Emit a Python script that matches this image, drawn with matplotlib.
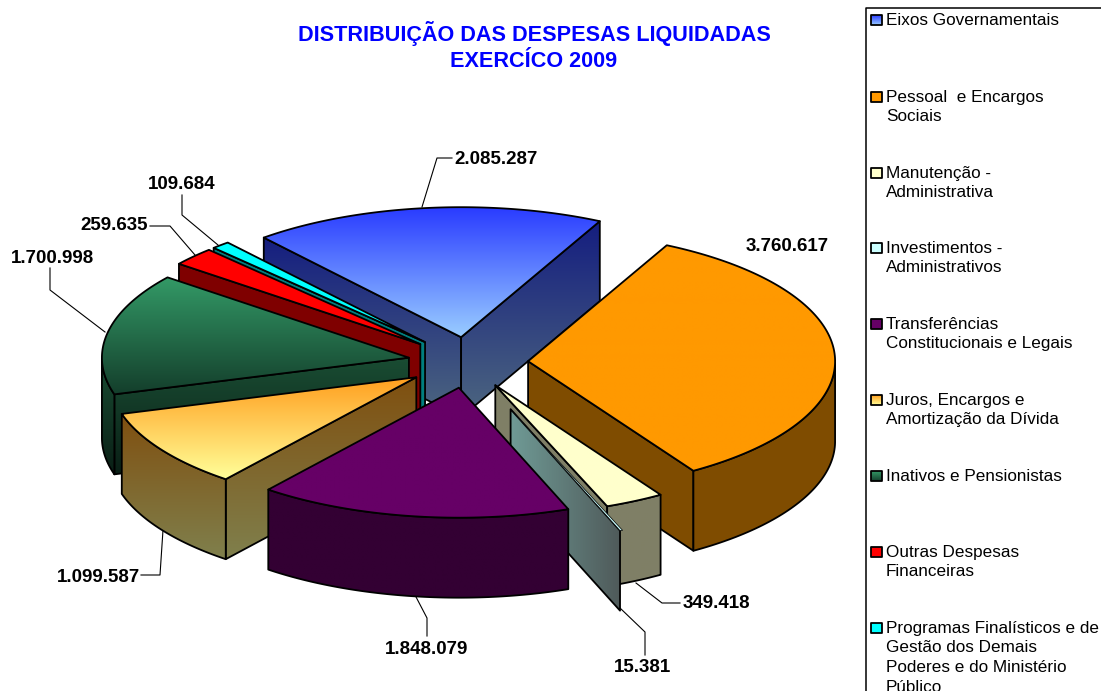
import numpy as np
import matplotlib
matplotlib.use("Agg")
from matplotlib import pyplot as plt
from matplotlib.colors import to_rgb
from matplotlib.patches import Polygon

plt.rcParams['font.family'] = ['Liberation Sans', 'DejaVu Sans']

categories = ["Eixos Governamentais", "Pessoal  e Encargos\nSociais", "Manutenção -\nAdministrativa",
              "Investimentos -\nAdministrativos", "Transferências\nConstitucionais e Legais",
              "Juros, Encargos e\nAmortização da Dívida", "Inativos e Pensionistas",
              "Outras Despesas\nFinanceiras",
              "Programas Finalísticos e de\nGestão dos Demais\nPoderes e do Ministério\nPúblico"]
values = [2085287, 3760617, 349418, 15381, 1848079, 1099587, 1700998, 259635, 109684]
value_labels = ["2.085.287", "3.760.617", "349.418", "15.381", "1.848.079",
                "1.099.587", "1.700.998", "259.635", "109.684"]

# estilo de cada fatia
top_colors = [("#2a3cff", "#99ccff"), ("#ff9900", "#ff9900"), ("#ffffcc", "#ffffcc"),
              ("#ccffff", "#ccffff"), ("#660066", "#660066"), ("#ff9f1f", "#ffff99"),
              ("#339966", "#143f2c"), ("#ff0000", "#ff0000"), ("#00ffff", "#00ffff")]
explode = [0.196, 0.196, 0.196, 0.385, 0.196, 0.203, 0.196, 0.21, 0.21]
draw_order = [0, 1, 8, 7, 6, 5, 2, 3, 4]

cx, cy = 468, 362.5
rx, ry = 307, 130
depth = 80
start_angle = 130

fig = plt.figure(figsize=(11.01, 6.91), dpi=100)
ax = fig.add_axes([0, 0, 1, 1])
ax.axis("off")


def shade(c, k=0.5):
    return tuple(v * k for v in to_rgb(c))


def fill(points, c0, c1, z, horizontal=False, lw=1.3):
    points = np.array(points)
    x0, y0 = points.min(axis=0)
    x1, y1 = points.max(axis=0)
    t = np.linspace(0, 1, 64)[:, None]
    grad = (1 - t) * np.array(to_rgb(c0)) + t * np.array(to_rgb(c1))
    grad = grad[None, :, :] if horizontal else grad[:, None, :]
    im = ax.imshow(grad, extent=(x0, x1, y1, y0), aspect="auto", zorder=z, interpolation="bilinear")
    poly = Polygon(points, closed=True, facecolor="none", edgecolor="black", lw=lw, joinstyle="round", zorder=z)
    ax.add_patch(poly)
    im.set_clip_path(poly)


def draw_slice(i, a, b, z):
    mid = np.radians((a + b) / 2)
    tx = cx + explode[i] * rx * np.cos(mid)
    ty = cy - explode[i] * ry * np.sin(mid)
    th = np.radians(np.linspace(a, b, 120))
    ax_x = tx + rx * np.cos(th)
    ax_y = ty - ry * np.sin(th)
    c0, c1 = top_colors[i]
    s0, s1 = shade(c0), shade(c1)
    hz = i == 3
    if hz:
        s0, s1 = "#6f9a95", "#4f5a5a"
    # paredes do corte, so as que ficam de frente
    for ang, visible in ((a, np.cos(np.radians(a)) < 0), (b, np.cos(np.radians(b)) > 0)):
        if visible:
            ex = tx + rx * np.cos(np.radians(ang))
            ey = ty - ry * np.sin(np.radians(ang))
            fill([(tx, ty), (ex, ey), (ex, ey + depth), (tx, ty + depth)], s0, s1, z, hz)
    # lateral externa (a fatia fina nao precisa, fica so a parede)
    front = np.sin(th) < 0
    if front.any() and not hz:
        fx, fy = ax_x[front], ax_y[front]
        pts = list(zip(fx, fy)) + list(zip(fx[::-1], fy[::-1] + depth))
        fill(pts, s0, s1, z + 0.1, hz)
    # topo
    fill([(tx, ty)] + list(zip(ax_x, ax_y)), c0, c1, z + 0.2, lw=0.5 if hz else 1.3)


angles = [start_angle]
for v in values:
    angles.append(angles[-1] - v / sum(values) * 360)
for n, i in enumerate(draw_order):
    draw_slice(i, angles[i], angles[i + 1], 2 + n)

# titulo
ax.text(534, 33, "DISTRIBUIÇÃO DAS DESPESAS LIQUIDADAS", color="#0000ff", fontsize=15.6, fontweight="bold",
        ha="center", va="center")
ax.text(534, 61, "EXERCÍCO 2009", color="#0000ff", fontsize=15.6, fontweight="bold", ha="center", va="center")

# rotulos e linhas de chamada
label_pos = [(454, 159, "left"), (746, 246, "left"), (683, 604, "left"), (614, 668, "left"), (427, 650, "center"),
             (140, 577, "right"), (52, 258, "center"), (148, 225, "right"), (182, 184, "center")]
leaders = [[(422, 207), (437, 158), (452, 158)], None, [(636, 583), (662, 603), (680, 603)],
           [(620, 608), (645, 632), (645, 655)], [(415, 595), (427, 618), (427, 636)],
           [(163, 530), (160, 575), (141, 575)], [(105, 332), (50, 290), (50, 268)],
           [(195, 255), (170, 226), (150, 226)], [(218, 245), (182, 215), (182, 195)]]
for txt, (x, y, ha), ld in zip(value_labels, label_pos, leaders):
    ax.text(x, y, txt, fontsize=13.5, fontweight="bold", ha=ha, va="center", zorder=20)
    if ld:
        ax.plot(*zip(*ld), color="black", lw=0.8, zorder=1)

# legenda
ax.plot([1101, 866, 866], [8, 8, 691], color="black", lw=1.1, zorder=1)
legend_y = [20, 97, 173, 248, 324, 400, 476, 552, 628]
for name, y, (c0, c1) in zip(categories, legend_y, top_colors):
    for k, line in enumerate(name.split("\n")):
        ax.text(886, y + k * 19.7, line, fontsize=12.3, ha="left", va="center", zorder=20)
    fill([(871, y - 5), (882, y - 5), (882, y + 5), (871, y + 5)], c0, c1, 20)

ax.set_xlim(0, 1101)
ax.set_ylim(691, 0)
fig.savefig("out.png", dpi=100)
